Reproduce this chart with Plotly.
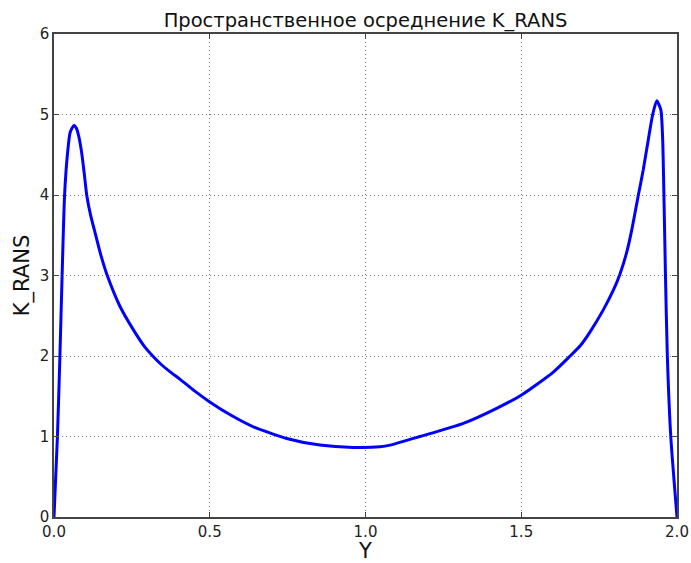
import plotly.graph_objects as go

y_coord = [0.0, 0.011, 0.019, 0.026, 0.034, 0.043, 0.052, 0.064, 0.072, 0.080, 0.089, 0.097,
           0.105, 0.118, 0.132, 0.15, 0.171, 0.212, 0.255, 0.29, 0.317, 0.34, 0.372, 0.405, 0.45,
           0.5, 0.57, 0.64, 0.747, 0.854, 0.961, 1.047, 1.079, 1.175, 1.314, 1.421, 1.501, 1.603,
           1.657, 1.69, 1.721, 1.763, 1.796, 1.817, 1.838, 1.855, 1.876, 1.892, 1.908, 1.922,
           1.935, 1.948, 1.954, 1.958, 1.963, 1.969, 1.980, 2.0]
k_rans = [0.0, 1.0, 2.0, 3.0, 4.0, 4.5, 4.78, 4.865, 4.83, 4.72, 4.52, 4.27,
          4.0, 3.74, 3.53, 3.26, 3.0, 2.615, 2.325, 2.12, 2.0, 1.91, 1.806, 1.71, 1.57,
          1.43, 1.26, 1.12, 0.976, 0.893, 0.864, 0.872, 0.893, 1.0, 1.163, 1.35, 1.516, 1.80,
          2.0, 2.13, 2.30, 2.57, 2.82, 3.02, 3.28, 3.57, 4.0, 4.32, 4.69, 5.0,
          5.17, 5.06, 4.69, 4.0, 3.0, 2.0, 1.0, 0.0]

title_text = "Пространственное осреднение K_RANS"
x_label = "Y"
y_label = "K_RANS"

FONT = "DejaVu Sans"

fig = go.Figure()
fig.add_trace(go.Scatter(x=y_coord, y=k_rans, mode="lines",
                         line=dict(color="#0000ff", width=3, shape="spline", smoothing=0.6),
                         showlegend=False))

axis_common = dict(
    showline=True, linecolor="#444444", linewidth=1.5, mirror="allticks",
    ticks="inside", ticklen=5, tickcolor="#444444", tickwidth=1,
    showgrid=True, gridcolor="#777777", griddash="1px,3px", gridwidth=1,
    zeroline=False, automargin=False,
    tickfont=dict(family=FONT, size=15, color="#222222"),
)

fig.update_layout(
    width=691, height=563,
    margin=dict(l=54, r=14, t=34, b=46),
    paper_bgcolor="white", plot_bgcolor="white",
    title=dict(text=title_text, x=0.529, xanchor="center", y=0.965, yanchor="middle",
               font=dict(family=FONT, size=19.5, color="#111111")),
    xaxis=dict(range=[0, 2], dtick=0.5, tick0=0, tickformat=".1f",
               title=dict(text=x_label, font=dict(family=FONT, size=21, color="#111111"), standoff=0),
               **axis_common),
    yaxis=dict(range=[0, 6], dtick=1, tick0=0,
               title=dict(text=y_label, font=dict(family=FONT, size=21, color="#111111"), standoff=4),
               **axis_common),
)

fig.write_html("out.html")
